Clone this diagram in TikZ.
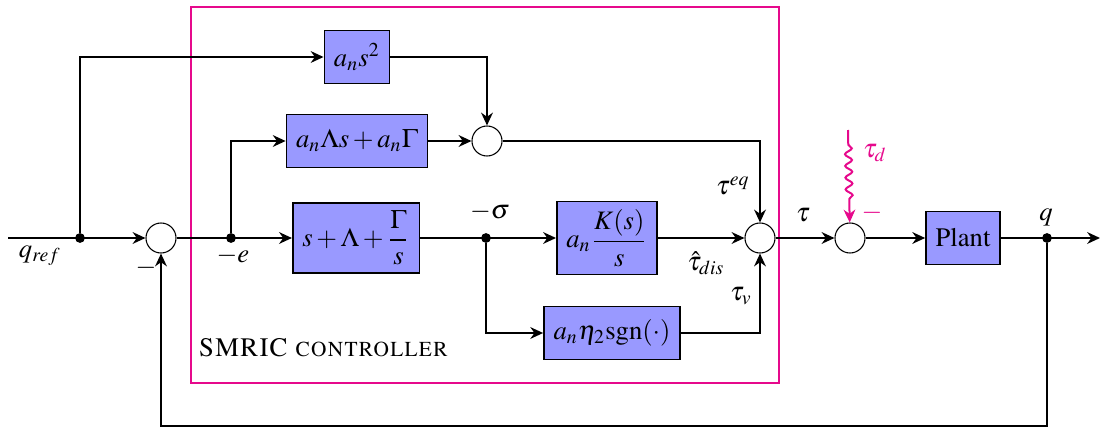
\documentclass[tikz,border=0pt]{standalone}
\usepackage[T1]{fontenc}
\usepackage{mathptmx}
\usepackage{amsmath}
\usetikzlibrary{arrows.meta, decorations.pathmorphing, positioning, calc}
\definecolor{smPink}{HTML}{E6098C}
\definecolor{smBlock}{HTML}{9999FF}
\tikzset{
  sig/.style     = {-{Stealth[length=4.8pt,width=4.4pt]}, line width=0.75pt},
  block/.style   = {draw, fill=smBlock, line width=0.6pt, minimum height=20pt,
                    inner xsep=3.6pt, inner ysep=3pt},
  sumnode/.style = {circle, draw, fill=white, minimum size=11.25pt, inner sep=0pt,
                    line width=0.4pt},
  tap/.style     = {circle, fill=black, inner sep=1.3pt},
  lbl/.style     = {inner sep=0pt},
  ctrlbox/.style = {draw=smPink, line width=0.8pt},
}

\begin{document}
\begin{tikzpicture}[x=0.375pt,y=-0.375pt]
  \useasboundingbox (0,0) rectangle (1102,428);
  % controller frame
  \draw[ctrlbox] (191,7) rectangle (779,383);
  \node[lbl, anchor=west] (ctrlname) at (198,348) {\textsc{SMRIC controller}};

  % main path
  \coordinate (in) at (8,238);
  \node[tap] (tapR) at (80,238) {};
  \node[sumnode] (sum1) at (161,238) {};
  \node[tap] (tapE) at (231,238) {};
  \node[block] (ctrl) at (356,238) {$s+\Lambda+\dfrac{\Gamma}{s}$};
  \node[tap] (tapS) at (486,238) {};
  \node[block] (est) at (607,238) {$a_n\dfrac{K(s)}{s}$};
  \node[sumnode] (sum2) at (760,238) {};
  \node[sumnode] (sum3) at (850,238) {};
  \node[block] (plant) at (963,238) {Plant};
  \node[tap] (tapQ) at (1047,238) {};
  \coordinate (out) at (1100,238);
  \coordinate (fbk) at (1047,426);

  % feedforward and switching branches
  \node[block] (acc) at (357,57) {$a_ns^2$};
  \node[block] (ff) at (357,141) {$a_n\Lambda s+a_n\Gamma$};
  \node[sumnode] (sum4) at (487,141) {};
  \node[block] (sgn) at (612,333) {$a_n\eta_2\mathrm{sgn}(\cdot)$};
  \coordinate (dist) at (848,130);

  \draw[sig] (in) -- (sum1);
  \draw[sig] (tapR) |- (acc);
  \draw[sig] (sum1) -- (ctrl);
  \draw[sig] (tapE) |- (ff);
  \draw[sig] (acc) -| (sum4);
  \draw[sig] (ff) -- (sum4);
  \draw[sig] (sum4) -| (sum2);
  \draw[sig] (ctrl) -- (est);
  \draw[sig] (tapS) |- (sgn);
  \draw[sig] (est) -- (sum2);
  \draw[sig] (sgn) -| (sum2);
  \draw[sig] (sum2) -- (sum3);
  \draw[sig] (sum3) -- (plant);
  \draw[sig] (plant) -- (out);
  \draw[sig] (tapQ) -- (fbk) -| (sum1);
  \draw[sig, smPink, decoration={snake, amplitude=1.3pt, segment length=4.4pt,
        pre length=5.5pt, post length=8.5pt}, decorate] (dist) -- (sum3);

  % labels
  \node[lbl] (lqref) at (40,256) {$q_{ref}$};
  \node[lbl] (lneg1) at (146,268) {$-$};
  \node[lbl] (le) at (233,256) {$-e$};
  \node[lbl] (lsigma) at (490,212) {$-\sigma$};
  \node[lbl] (ltaueq) at (733,186) {$\tau^{eq}$};
  \node[lbl] (ltaudis) at (706,263) {$\hat{\tau}_{dis}$};
  \node[lbl] (ltauv) at (741,296) {$\tau_v$};
  \node[lbl] (ltau) at (803,215) {$\tau$};
  \node[lbl, smPink] (ltaud) at (875,153) {$\tau_d$};
  \node[lbl, smPink] (lneg3) at (872,213) {$-$};
  \node[lbl] (lq) at (1046,217) {$q$};
\end{tikzpicture}
\end{document}
